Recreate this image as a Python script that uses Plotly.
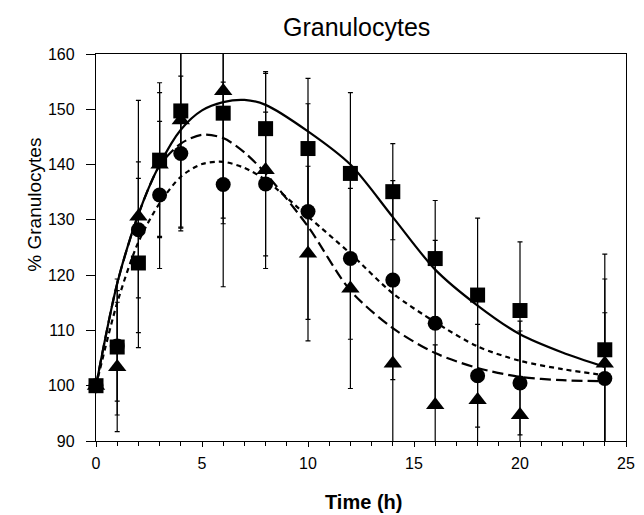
import plotly.graph_objects as go

time_pts = [0, 1, 2, 3, 4, 6, 8, 10, 12, 14, 16, 18, 20, 24]

square_vals = [100, 107.0, 122.2, 140.8, 149.7, 149.3, 146.5, 142.9, 138.4, 135.1, 123.0, 116.4, 113.6, 106.5]
square_err = [0, 12.3, 15.3, 14.0, 21.0, 20.0, 10.0, 12.7, 14.6, 8.7, 10.5, 13.9, 12.4, 17.3]

circle_vals = [100, 107.2, 128.2, 134.5, 142.0, 136.4, 136.5, 131.5, 123.0, 119.1, 111.3, 101.8, 100.5, 101.3]
circle_err = [0, 10.0, 12.3, 13.3, 14.0, 18.5, 13.0, 19.5, 14.6, 18.0, 15.0, 9.3, 9.4, 11.9]

triangle_vals = [100, 103.4, 130.6, 140.0, 148.0, 153.3, 139.0, 123.9, 117.6, 104.0, 96.5, 97.4, 94.7, 104.0]
triangle_err = [0, 11.7, 21.0, 13.0, 19.5, 23.0, 17.8, 15.8, 18.1, 15.0, 10.9, 18.0, 17.0, 15.3]

# fitted model curves
curve_t = [0, 1, 2, 3, 4, 5, 6, 7, 8, 10, 12, 14, 16, 18, 20, 22, 24]
curve_solid = [100, 118.5, 131.0, 140.0, 146.3, 149.8, 151.3, 151.7, 150.8, 146.0, 140.0, 130.5, 121.0, 114.5, 109.3, 106.0, 103.4]
curve_long = [100, 118.5, 131.0, 139.8, 143.8, 145.4, 144.8, 142.2, 138.4, 128.8, 117.2, 110.4, 105.9, 103.2, 101.6, 101.0, 100.8]
curve_short = [100, 115.0, 126.0, 133.0, 137.8, 140.1, 140.5, 139.4, 137.2, 130.6, 123.9, 116.7, 111.5, 107.1, 104.5, 103.0, 101.9]

x_ticks = [0, 5, 10, 15, 20, 25]
y_ticks = [90, 100, 110, 120, 130, 140, 150, 160]

FONT = "Liberation Sans, Arial, sans-serif"

fig = go.Figure()

line_w = 2.2
fig.add_trace(go.Scatter(x=curve_t, y=curve_short, mode="lines",
                         line=dict(color="black", width=line_w, dash="5px,4px", shape="spline", smoothing=0.8),
                         showlegend=False, hoverinfo="skip"))
fig.add_trace(go.Scatter(x=curve_t, y=curve_long, mode="lines",
                         line=dict(color="black", width=line_w, dash="11px,5px", shape="spline", smoothing=0.8),
                         showlegend=False, hoverinfo="skip"))
fig.add_trace(go.Scatter(x=curve_t, y=curve_solid, mode="lines",
                         line=dict(color="black", width=line_w, shape="spline", smoothing=0.8),
                         showlegend=False, hoverinfo="skip"))

def bars(vals, errs):
    # error bars only, clipped to the plotting area
    return go.Scatter(
        x=time_pts, y=vals, mode="markers",
        marker=dict(size=1, color="rgba(0,0,0,0)"),
        error_y=dict(type="data", array=errs, visible=True, color="black", thickness=1.2, width=2.5),
        showlegend=False, hoverinfo="skip", cliponaxis=True,
    )

def marks(vals, symbol, size):
    return go.Scatter(
        x=time_pts, y=vals, mode="markers",
        marker=dict(symbol=symbol, size=size, color="black", line=dict(width=0)),
        showlegend=False, cliponaxis=False,
    )

fig.add_trace(bars(triangle_vals, triangle_err))
fig.add_trace(bars(circle_vals, circle_err))
fig.add_trace(bars(square_vals, square_err))
fig.add_trace(marks(triangle_vals, "triangle-up", 16))
fig.add_trace(marks(circle_vals, "circle", 15))
fig.add_trace(marks(square_vals, "square", 15))

L, R, T, B = 96, 8.5, 53.5, 73.5
fig.update_layout(
    width=644, height=515,
    margin=dict(l=L, r=R, t=T, b=B, pad=0),
    paper_bgcolor="white", plot_bgcolor="white",
    font=dict(family=FONT, color="black", size=16),
    showlegend=False,
)

fig.update_xaxes(
    range=[0, 25], tickvals=x_ticks, ticktext=[str(v) for v in x_ticks],
    showgrid=False, zeroline=False,
    showline=True, linecolor="black", linewidth=1.3, mirror=True,
    ticks="outside", ticklen=5, tickwidth=1.3, tickcolor="black",
    minor=dict(dtick=1, ticks="outside", ticklen=4, tickwidth=1.2, tickcolor="black", showgrid=False),
    tickfont=dict(size=16, family=FONT), ticklabelstandoff=3,
    ticklabeloverflow="allow",
)
fig.update_yaxes(
    range=[90, 160], tickvals=y_ticks, ticktext=[str(v) for v in y_ticks],
    showgrid=False, zeroline=False,
    showline=True, linecolor="black", linewidth=1.3, mirror=True,
    ticks="outside", ticklen=9, tickwidth=1.3, tickcolor="black",
    tickfont=dict(size=16, family=FONT), ticklabelstandoff=8,
    ticklabeloverflow="allow",
)

pw = 644 - L - R
ph = 515 - T - B
def px(xp):
    return (xp - L) / pw
def py(yp):
    return (515 - B - yp) / ph

fig.add_annotation(text="Granulocytes", x=px(361), y=py(26), xref="paper", yref="paper",
                   showarrow=False, xanchor="center", yanchor="middle",
                   font=dict(size=25, family=FONT))
fig.add_annotation(text="% Granulocytes", x=px(34), y=py(204.5), xref="paper", yref="paper",
                   showarrow=False, xanchor="center", yanchor="middle", textangle=-90,
                   font=dict(size=19, family=FONT))
fig.add_annotation(text="<b>Time (h)</b>", x=px(368), y=py(503), xref="paper", yref="paper",
                   showarrow=False, xanchor="center", yanchor="middle",
                   font=dict(size=20, family=FONT))

fig.write_html("out.html")
